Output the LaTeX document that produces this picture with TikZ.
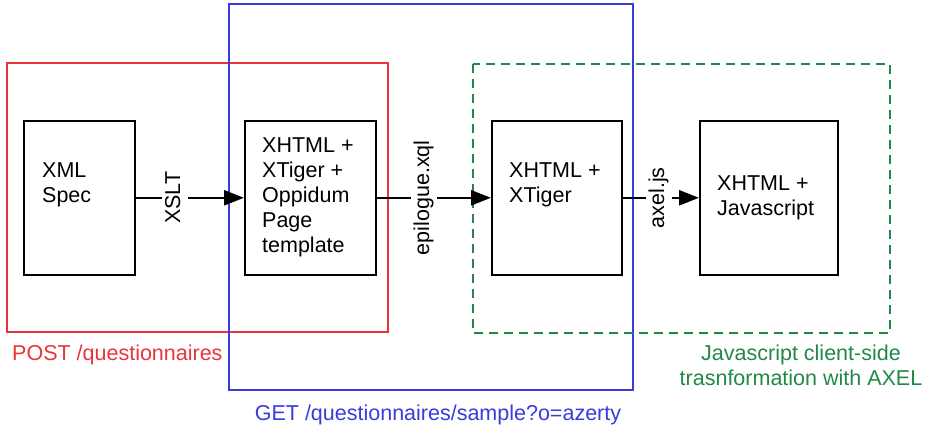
\documentclass[tikz,border=0pt]{standalone}
\usepackage{fontspec}
\setmainfont{Liberation Sans}
\usetikzlibrary{arrows.meta}

\definecolor{postred}{RGB}{234,52,58}
\definecolor{getblue}{RGB}{58,58,222}
\definecolor{axelgreen}{RGB}{34,136,72}

\tikzset{
    frame/.style={line width=1.3pt},
    stepbox/.style={draw, line width=1.6pt, inner sep=0pt, anchor=north west,
        minimum height=154pt},
    boxtext/.style={anchor=north west, inner sep=0pt, align=left},
    pfeil/.style={line width=2.6pt, -{Triangle[length=20pt,width=15pt]}},
    trafo/.style={rotate=90, fill=white, inner xsep=4pt, inner ysep=0pt,
        minimum height=26pt, text height=15.5pt, text depth=4.5pt},
}

\begin{document}
\begin{tikzpicture}[x=1pt, y=-1pt, font=\fontsize{21.5}{25}\selectfont]
    \useasboundingbox (0,0) rectangle (947,428);

    % Bereiche
    \draw[frame, postred] (7,63) rectangle (388,332);
    \draw[frame, getblue] (229,4) rectangle (633,390);
    \draw[frame, axelgreen, dash pattern=on 9pt off 6pt] (473,64) rectangle (890,333);

    \node[anchor=base west, inner sep=0pt, text=postred] (postlabel) at (12,360)
        {POST /questionnaires};
    \node[anchor=base, inner sep=0pt, text=getblue] (getlabel) at (438,420)
        {GET /questionnaires/sample?o=azerty};
    \node[anchor=north, inner sep=0pt, align=center, text=axelgreen] (axellabel) at (801,345)
        {Javascript client-side\\trasnformation with AXEL};

    % Kaesten
    \def\ytop{120}
    \node[stepbox, minimum width=111pt] (spec) at (23,\ytop) {};
    \node[stepbox, minimum width=131pt] (page) at (244,\ytop) {};
    \node[stepbox, minimum width=130pt] (xtiger) at (491,\ytop) {};
    \node[stepbox, minimum width=138pt] (js) at (699,\ytop) {};

    % Beschriftung der Kaesten
    \node[boxtext] (spectext) at (42,163) {XML\\Spec};
    \node[boxtext] (pagetext) at (262,138) {XHTML +\\XTiger +\\Oppidum\\Page\\template};
    \node[boxtext] (xtigertext) at (509,163) {XHTML +\\XTiger};
    \node[boxtext] (jstext) at (717,176) {XHTML +\\Javascript};

    % Pfeile
    \draw[pfeil] (spec.east) -- node[trafo, pos=0.36] (xslt) {XSLT} (page.west);
    \draw[pfeil] (page.east) -- node[trafo, pos=0.41] (epilogue) {epilogue.xql} (xtiger.west);
    \draw[pfeil] (xtiger.east) -- node[trafo, pos=0.47] (axel) {axel.js} (js.west);
\end{tikzpicture}
\end{document}
